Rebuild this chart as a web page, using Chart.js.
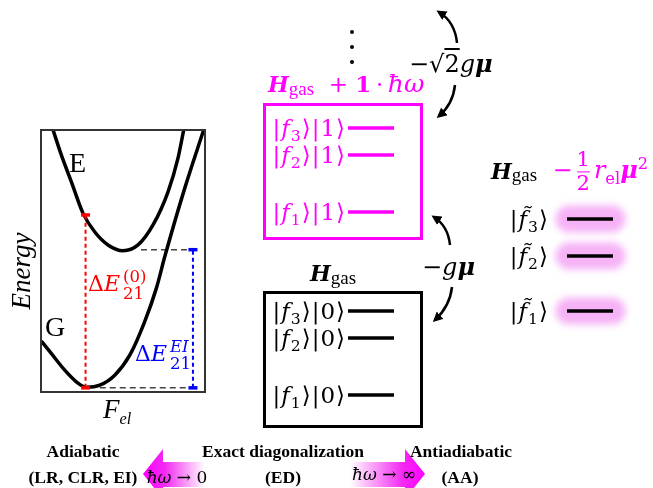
<!DOCTYPE html>
<html>
<head>
<meta charset="utf-8">
<title>Adiabatic / ED / antiadiabatic levels</title>
<script src="https://cdn.jsdelivr.net/npm/chart.js@4.4.1/dist/chart.umd.min.js"></script>
<style>
  html, body { margin: 0; padding: 0; background: #fff; }
  #page { position: relative; width: 653px; height: 488px; overflow: hidden; font-family: 'DejaVu Serif', serif; }
  #levels { position: absolute; left: 0; top: 0; }
  .frame { position: absolute; left: 40px; top: 129px; width: 162px; height: 260px; border: 2px solid #333; }
  .frame canvas { display: block; }
  .box { position: absolute; left: 263px; width: 160px; height: 137px; box-sizing: border-box; border: 3px solid #000; }
  .t { position: absolute; white-space: nowrap; line-height: 1; transform: translateY(-50%); }
  .c { transform: translate(-50%, -50%); text-align: center; }
  .tnr { font-family: 'Liberation Serif', serif; }
  .b { font-weight: bold; font-size: 17.5px; }
  sub, sup { line-height: 0; font-size: 0.68em; }
  .mag { color: #ff00ff; }
  .ket { font-size: 23px; letter-spacing: 1px; }
  .H { font-weight: bold; font-style: italic; font-size: 22px; }
  .gas { font-family: 'Liberation Serif', serif; font-size: 19px; position: relative; top: 3px; }
  .ss { display: inline-block; vertical-align: middle; font-size: 0.75em; line-height: 1.05; margin-left: 3px; }
  .ss span { display: block; }
  .frac { display: inline-block; vertical-align: middle; text-align: center; font-size: 21px; line-height: 1.1; padding: 0 4px; }
  .frac span { display: block; }
  .frac .den { border-top: 1.5px solid #ff00ff; }
  .dot { position: absolute; width: 4px; height: 4px; border-radius: 50%; background: #000; left: 350px; }
  svg { position: absolute; left: 0; top: 0; }
</style>
</head>
<body>
<div id="page">
  <canvas id="levels" width="653" height="488"></canvas>
  <div class="frame"><canvas id="pes" width="162" height="260"></canvas></div>

  <svg width="653" height="488">
    <defs>
      <marker id="ah" viewBox="0 0 10 10" refX="7" refY="5" markerWidth="4" markerHeight="4" orient="auto">
        <path d="M0,0 L10,5 L0,10 z" fill="#000"/>
      </marker>
      <linearGradient id="gl" gradientUnits="userSpaceOnUse" x1="143" y1="0" x2="205" y2="0">
        <stop offset="0" stop-color="#ff00ff"/>
        <stop offset="0.35" stop-color="#f22af2"/>
        <stop offset="1" stop-color="#ffffff"/>
      </linearGradient>
      <linearGradient id="gr" gradientUnits="userSpaceOnUse" x1="350" y1="0" x2="425" y2="0">
        <stop offset="0" stop-color="#ffffff"/>
        <stop offset="0.7" stop-color="#f22af2"/>
        <stop offset="1" stop-color="#ff00ff"/>
      </linearGradient>
    </defs>
    <path d="M457,43 Q455,22 439,12" stroke="#000" stroke-width="2.5" fill="none" marker-end="url(#ah)"/>
    <path d="M455,85 Q453,104 439,116" stroke="#000" stroke-width="2.5" fill="none" marker-end="url(#ah)"/>
    <path d="M450,245 Q448,226 434,217" stroke="#000" stroke-width="2.5" fill="none" marker-end="url(#ah)"/>
    <path d="M452,287 Q450,306 435,320" stroke="#000" stroke-width="2.5" fill="none" marker-end="url(#ah)"/>
    <polygon points="143,474 163,449 163,462 205,462 205,487 163,487 163,499" fill="url(#gl)"/>
    <polygon points="350,462 405,462 405,449 425,474 405,499 405,487 350,487" fill="url(#gr)"/>
  </svg>

  <div class="box" style="top:103px;border-color:#ff00ff"></div>
  <div class="box" style="top:291px"></div>

  <!-- left panel labels -->
  <div class="t tnr" style="left:69px;top:163px;font-size:28px">E</div>
  <div class="t tnr" style="left:45px;top:327px;font-size:28px">G</div>
  <div class="t tnr c" style="left:21px;top:271px;font-size:27px;font-style:italic;transform:translate(-50%,-50%) rotate(-90deg)">Energy</div>
  <div class="t tnr" style="left:103px;top:409px;font-size:27px;font-style:italic">F<sub style="font-size:0.6em">el</sub></div>
  <div class="t" style="left:88px;top:285px;font-size:22px;color:#ff0000">Δ<i>E</i><span class="ss"><span>(0)</span><span>21</span></span></div>
  <div class="t" style="left:135px;top:355px;font-size:22px;color:#0000ff">Δ<i>E</i><span class="ss"><span><i>EI</i></span><span>21</span></span></div>

  <!-- middle -->
  <div class="dot" style="top:30px"></div>
  <div class="dot" style="top:45px"></div>
  <div class="dot" style="top:60px"></div>
  <div class="t mag" style="left:268px;top:83px;font-size:23px"><span class="H">H</span><span class="gas">gas</span>&nbsp; +&nbsp;<b>1</b>&thinsp;·&thinsp;<i style="font-size:25px">ħω</i></div>
  <div class="t" style="left:409px;top:64px;font-size:24px">−√<span style="text-decoration:overline">2</span><i>g</i><b><i>μ</i></b></div>
  <div class="t" style="left:422px;top:267px;font-size:24px">−<i>g</i><b><i>μ</i></b></div>
  <div class="t" style="left:310px;top:273px"><span class="H">H</span><span class="gas">gas</span></div>
  <div class="t" style="left:491px;top:172px"><span class="H">H</span><span class="gas">gas</span><span class="mag" style="font-size:24px">&nbsp; −<span class="frac"><span>1</span><span class="den">2</span></span><i>r</i><sub>el</sub><b><i>μ</i></b><sup>2</sup></span></div>

  <!-- bottom -->
  <div class="t c tnr b" style="left:83px;top:452px">Adiabatic</div>
  <div class="t c tnr b" style="left:83px;top:478px">(LR, CLR, EI)</div>
  <div class="t c tnr b" style="left:283px;top:452px">Exact diagonalization</div>
  <div class="t c tnr b" style="left:283px;top:478px">(ED)</div>
  <div class="t c tnr b" style="left:461px;top:452px">Antiadiabatic</div>
  <div class="t c tnr b" style="left:460px;top:478px">(AA)</div>
  <div class="t c" style="left:177px;top:477px;font-size:17px"><i>ħω</i> → 0</div>
  <div class="t c" style="left:384px;top:474px;font-size:17px"><i>ħω</i> → ∞</div>
  <div id="kets"></div>
</div>

<script>
// potential energy curves (F_el, energy)
const groundF = [0.02, 0.62, 1.44, 2.14, 2.75, 3.56, 4.47, 5.38, 6.28, 6.99, 7.50, 8.71, 9.86];
const groundE = [1.98, 1.51, 0.87, 0.43, 0.22, 0.30, 0.68, 1.44, 2.71, 3.98, 5.18, 7.78, 10.0];
const excitedF = [0.73, 1.23, 1.84, 2.55, 3.25, 4.06, 4.97, 5.88, 6.79, 7.70, 8.30, 8.65];
const excitedE = [10.0, 9.05, 8.03, 6.83, 6.13, 5.63, 5.41, 5.63, 6.39, 7.65, 8.92, 10.0];

// vertical transitions: ΔE(0) (red) and ΔE EI (blue)
const transF = [2.7, 9.21];
const transLow = [0.2, 0.2];
const transHigh = [6.77, 5.45];
const guideStartF = [3.56, 6.06];   // where the black dashed guides start

// energy levels (same units on all three ladders)
const kets = ['1', '2', '3'];
const levelsPhoton1 = [22.8, 28.5, 31.2];
const levelsPhoton0 = [4.5, 10.2, 12.9];
const levelsAA = [12.9, 18.4, 22.1];

const toPts = (xs, ys) => xs.map((x, i) => ({ x: x, y: ys[i] }));

// ---- left panel: potential energy surfaces
new Chart(document.getElementById('pes'), {
  type: 'scatter',
  data: {
    datasets: [
      { data: toPts(groundF, groundE), showLine: true, borderColor: '#000', borderWidth: 3.5, pointRadius: 0, cubicInterpolationMode: 'monotone', order: 1 },
      { data: toPts(excitedF, excitedE), showLine: true, borderColor: '#000', borderWidth: 3.5, pointRadius: 0, cubicInterpolationMode: 'monotone', order: 1 },
      { data: [{ x: guideStartF[0], y: transLow[1] }, { x: transF[1], y: transLow[1] }], showLine: true, borderColor: '#444', borderWidth: 1.5, borderDash: [6, 4], pointRadius: 0, order: 3 },
      { data: [{ x: guideStartF[1], y: transHigh[1] }, { x: transF[1], y: transHigh[1] }], showLine: true, borderColor: '#444', borderWidth: 1.5, borderDash: [6, 4], pointRadius: 0, order: 3 },
      { data: [{ x: transF[0], y: transLow[0] }, { x: transF[0], y: transHigh[0] }], showLine: true, borderColor: '#ff0000', borderWidth: 2, borderDash: [4, 3],
        pointStyle: 'line', pointRadius: 4.5, pointBorderWidth: 3.5, pointBorderColor: '#ff0000', clip: false, order: 0 },
      { data: [{ x: transF[1], y: transLow[1] }, { x: transF[1], y: transHigh[1] }], showLine: true, borderColor: '#0000ff', borderWidth: 2, borderDash: [4, 3],
        pointStyle: 'line', pointRadius: 4.5, pointBorderWidth: 3.5, pointBorderColor: '#0000ff', clip: false, order: 0 }
    ]
  },
  options: {
    responsive: false,
    animation: false,
    layout: { padding: 0, autoPadding: false },
    plugins: { legend: { display: false }, tooltip: { enabled: false } },
    scales: {
      x: { type: 'linear', min: 0.06, max: 9.88, display: false },
      y: { type: 'linear', min: 0.08, max: 9.96, display: false }
    }
  }
});

// ---- level ladders
const ED_X = [348, 394];
const AA_X = [567, 613];

const glowPlugin = {
  id: 'glow',
  beforeDatasetDraw(chart, args) {
    if (chart.data.datasets[args.index].glow) { chart.ctx.save(); chart.ctx.filter = 'blur(3.5px)'; }
  },
  afterDatasetDraw(chart, args) {
    if (chart.data.datasets[args.index].glow) chart.ctx.restore();
  }
};

const levelSet = (vals, xr, color, width, extra) => vals.map(v => Object.assign({
  data: [{ x: xr[0], y: v }, { x: xr[1], y: v }],
  showLine: true, borderColor: color, borderWidth: width, pointRadius: 0
}, extra || {}));

const levelChart = new Chart(document.getElementById('levels'), {
  type: 'scatter',
  data: {
    datasets: [].concat(
      levelSet(levelsPhoton1, ED_X, '#ff00ff', 3.5, { order: 0 }),
      levelSet(levelsPhoton0, ED_X, '#000', 3.5, { order: 0 }),
      levelSet(levelsAA, AA_X, '#000', 3.5, { order: 0 }),
      levelSet(levelsAA, [AA_X[0] + 2, AA_X[1] - 1], '#f6b2f6', 27, { order: 5, glow: true, borderCapStyle: 'round' })
    )
  },
  options: {
    responsive: false,
    animation: false,
    layout: { padding: 0, autoPadding: false },
    plugins: { legend: { display: false }, tooltip: { enabled: false } },
    scales: {
      x: { type: 'linear', min: 0, max: 653, display: false },
      y: { type: 'linear', min: -4.8, max: 44, display: false }
    }
  },
  plugins: [glowPlugin]
});

// ket labels placed on the level heights through the y scale
const ys = levelChart.scales.y;
const ketBox = document.getElementById('kets');
function addKet(html, rightEdge, value, cls) {
  const d = document.createElement('div');
  d.className = 't ket ' + (cls || '');
  d.style.right = (653 - rightEdge) + 'px';
  d.style.top = ys.getPixelForValue(value) + 'px';
  d.innerHTML = html;
  ketBox.appendChild(d);
}
kets.forEach((k, i) => {
  addKet('|<i>f</i><sub>' + k + '</sub>⟩|1⟩', 346, levelsPhoton1[i], 'mag');
  addKet('|<i>f</i><sub>' + k + '</sub>⟩|0⟩', 346, levelsPhoton0[i]);
  addKet('|<i>f\u0303</i><sub>' + k + '</sub>⟩', 549, levelsAA[i]);
});
</script>
</body>
</html>
